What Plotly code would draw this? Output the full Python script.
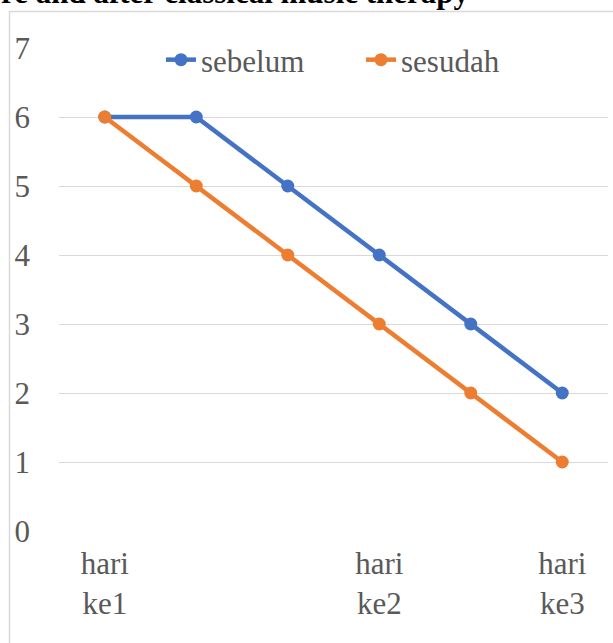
import plotly.graph_objects as go

x_pos = [0, 1, 2, 3, 4, 5]
tick_vals = [0, 3, 5]
tick_text = ["hari<br>ke1", "hari<br>ke2", "hari<br>ke3"]
sebelum = [6, 6, 5, 4, 3, 2]
sesudah = [6, 5, 4, 3, 2, 1]
title_text = "re and after classical music therapy"

FONT = "Liberation Serif"
GRID = "#D9D9D9"
TXT = "#595959"

L, R, T, B = 59, 5, 48, 112
W, H = 613, 643
pw = W - L - R
ph = H - T - B

def px_x(px):
    return (px - L) / pw

def px_y(py):
    return (H - B - py) / ph

fig = go.Figure()
fig.add_trace(go.Scatter(x=x_pos, y=sebelum, name="sebelum", mode="lines+markers",
                         line=dict(color="#4472C4", width=4.5),
                         marker=dict(color="#4472C4", size=13), legend="legend"))
fig.add_trace(go.Scatter(x=x_pos, y=sesudah, name="sesudah", mode="lines+markers",
                         line=dict(color="#ED7D31", width=4.5),
                         marker=dict(color="#ED7D31", size=13), legend="legend2"))

leg_common = dict(orientation="h", xanchor="left", yanchor="middle",
                  font=dict(family=FONT, size=31, color=TXT), bgcolor="rgba(0,0,0,0)")

fig.update_layout(
    width=W, height=H,
    margin=dict(l=L, r=R, t=T, b=B, autoexpand=False),
    paper_bgcolor="white", plot_bgcolor="white",
    font=dict(family=FONT, size=31, color=TXT),
    showlegend=True,
    legend=dict(x=px_x(161), y=px_y(60), **leg_common),
    legend2=dict(x=px_x(361), y=px_y(60), **leg_common),
    xaxis=dict(range=[-0.5, 5.5], tickvals=tick_vals, ticktext=tick_text,
               showgrid=False, zeroline=False, showline=False, ticks="",
               tickfont=dict(family=FONT, size=31, color=TXT), ticklabelstandoff=11,
               automargin=False),
    yaxis=dict(range=[0, 7], dtick=1, showgrid=True, gridcolor=GRID, gridwidth=1.3,
               zeroline=False, showline=False, ticks="",
               tickfont=dict(family=FONT, size=31, color=TXT), ticklabelstandoff=28,
               automargin=False),
    shapes=[dict(type="rect", xref="paper", yref="paper",
                 x0=px_x(9.5), x1=px_x(700), y0=px_y(700), y1=px_y(11.5),
                 line=dict(color=GRID, width=1.5), fillcolor="rgba(0,0,0,0)", layer="below")],
    annotations=[dict(text=f"<b>{title_text}</b>", xref="paper", yref="paper",
                      x=px_x(-1), xanchor="left", y=px_y(12), yanchor="bottom",
                      showarrow=False, font=dict(family=FONT, size=31, color="black"))],
)

fig.write_html("out.html", config={"displayModeBar": False},
               post_script="document.body.style.margin='0px';document.body.style.padding='0px';")
